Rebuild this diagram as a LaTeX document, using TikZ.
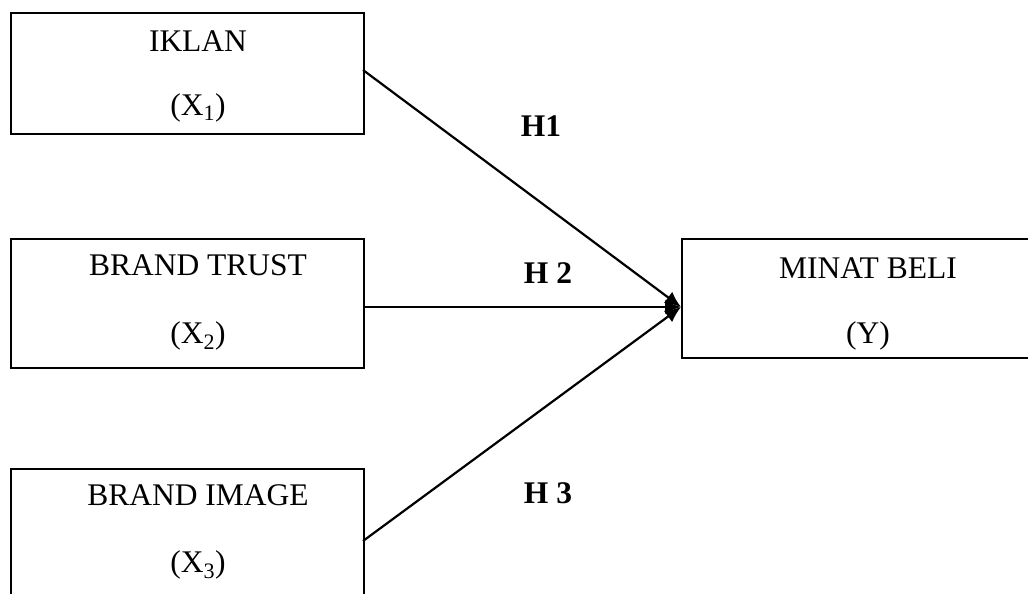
\documentclass[tikz,border=0pt]{standalone}
\usepackage{fontspec}
\setmainfont{Liberation Serif}
\usetikzlibrary{arrows.meta}
\begin{document}
\begin{tikzpicture}[x=1pt,y=-1pt,
  box/.style={draw=black,line width=2.2pt,rectangle,inner sep=0pt,anchor=north west},
  lbl/.style={font=\fontsize{31.5}{36}\selectfont,anchor=base,inner sep=0pt},
  hyp/.style={font=\fontsize{31.5}{36}\selectfont\bfseries,anchor=base,inner sep=0pt},
  conn/.style={line width=2.2pt,-{Latex[length=16pt,width=14pt]}}]
\useasboundingbox (0,0) rectangle (1028,594);
\clip (0,0) rectangle (1028,594);
% boxes
\node[box,minimum width=353pt,minimum height=121pt] (iklan) at (10,12) {};
\node[box,minimum width=353pt,minimum height=129pt] (trust) at (10,238) {};
\node[box,minimum width=353pt,minimum height=146pt] (image) at (10,468) {};
\node[box,minimum width=360pt,minimum height=119pt] (minat) at (681,238) {};
% texts
\node[lbl] (t1) at (198,52) {IKLAN};
\node[lbl] (t1b) at (198,115) {(X\textsubscript{1})};
\node[lbl] (t2) at (198,275) {BRAND TRUST};
\node[lbl] (t2b) at (198,343) {(X\textsubscript{2})};
\node[lbl] (t3) at (198,505) {BRAND IMAGE};
\node[lbl] (t3b) at (198,572) {(X\textsubscript{3})};
\node[lbl] (ty) at (868,278) {MINAT BELI};
\node[lbl] (tyb) at (868,343) {(Y)};
% hypothesis labels
\node[hyp] (h1) at (541,136) {H1};
\node[hyp] (h2) at (548,283) {H 2};
\node[hyp] (h3) at (548,503) {H 3};
% connector endpoints
\coordinate (s1) at (363,70);
\coordinate (s2) at (363,307);
\coordinate (s3) at (363,541);
\coordinate (tip) at (681,307);
\draw[conn] (s1) -- (tip);
\draw[conn] (s2) -- (tip);
\draw[conn] (s3) -- (tip);
\end{tikzpicture}
\end{document}
